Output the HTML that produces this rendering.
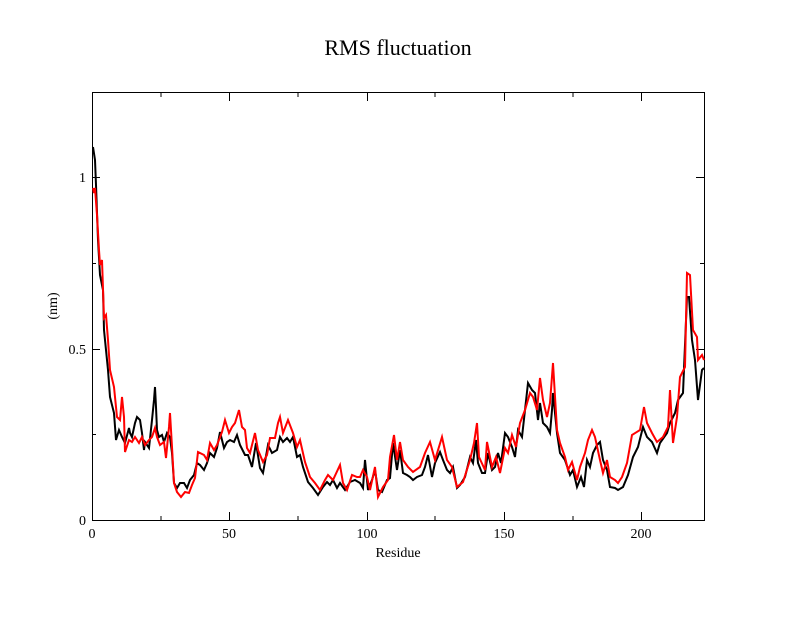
<!DOCTYPE html>
<html><head><meta charset="utf-8"><style>body{margin:0;background:#fff}</style></head>
<body>
<svg width="792" height="612" xmlns="http://www.w3.org/2000/svg" font-family="Liberation Serif, serif">
<rect width="792" height="612" fill="#fff"/>
<text x="398" y="55" text-anchor="middle" font-size="22">RMS fluctuation</text>
<g stroke="#000" stroke-width="1" fill="none">
<rect x="92.5" y="92.5" width="612" height="428"/>
<path d="M92.5 520v-8M229.5 520v-8M367.5 520v-8M504.5 520v-8M641.5 520v-8M92.5 93v8M229.5 93v8M367.5 93v8M504.5 93v8M641.5 93v8
M161 520v-4M298 520v-4M435 520v-4M573 520v-4M161 93v4M298 93v4M435 93v4M573 93v4
M92 520.5h8M92 349.5h8M92 177.5h8M704 520.5h-8M704 349.5h-8M704 177.5h-8
M92 434.5h4M92 263.5h4M704 434.5h-4M704 263.5h-4"/>
</g>
<g font-size="14" text-anchor="middle">
<text x="92" y="538">0</text><text x="229" y="538">50</text><text x="367" y="538">100</text><text x="504" y="538">150</text><text x="641" y="538">200</text>
</g>
<g font-size="14" text-anchor="end">
<text x="86" y="525">0</text><text x="86" y="354">0.5</text><text x="86" y="182">1</text>
</g>
<text x="398" y="557" text-anchor="middle" font-size="14">Residue</text>
<text transform="translate(57,306) rotate(-90)" text-anchor="middle" font-size="14">(nm)</text>
<polyline fill="none" stroke="#000" stroke-width="2" points="93,147 95,160 96,185 98,240 100,275 103,290 104,330 106,350 108,370 110,397 114,413 116,440 119,430 122,437 125,443 129,428 130,433 132,437 135,423 137,417 140,420 142,433 144,450 145,442 149,448 152,420 154,400 155,387 156,407 157,430 159,437 162,435 164,442 167,433 170,437 172,453 174,483 177,488 180,483 184,483 187,488 190,480 194,475 197,463 200,465 204,470 207,463 210,453 214,457 217,448 220,432 224,448 227,442 230,440 234,442 237,435 240,445 245,455 248,455 252,467 256,443 260,468 263,473 268,445 272,453 277,450 280,437 283,442 287,438 290,442 293,437 297,457 300,455 303,467 308,482 313,488 318,495 323,487 327,482 330,485 333,480 337,488 340,483 345,490 350,482 355,480 360,483 363,488 365,460 368,490 372,480 375,470 378,490 382,492 387,480 390,478 393,443 397,470 400,450 403,473 407,475 410,477 413,480 417,477 422,475 425,467 428,455 432,477 435,463 440,452 443,460 447,470 450,473 453,467 457,488 460,485 465,477 470,457 473,463 476,440 478,463 482,473 485,473 488,453 492,470 495,467 498,453 501,463 505,433 508,437 512,447 515,457 518,430 522,437 525,410 528,383 532,390 535,393 538,420 540,403 543,423 547,427 550,433 552,410 553,393 557,433 560,453 565,460 570,475 573,470 577,487 581,477 584,487 587,460 590,467 593,453 597,445 600,442 603,460 607,470 610,487 615,488 618,490 623,487 628,475 633,457 638,447 643,427 647,437 652,442 657,453 660,443 667,433 670,423 675,413 678,400 683,393 687,297 689,297 692,340 695,360 698,400 702,370 704,368"/>
<polyline fill="none" stroke="#f00" stroke-width="2" points="93,188 94,193 95,188 97,215 99,250 100,265 102,260 104,318 106,315 108,340 110,370 114,387 117,417 120,420 122,397 124,417 125,452 129,440 132,442 135,437 139,443 142,437 145,445 149,440 152,437 155,428 157,437 160,445 164,442 166,458 169,427 170,413 172,447 174,483 177,492 181,497 185,492 189,493 192,485 195,478 198,452 204,455 207,460 210,443 214,450 217,445 222,432 225,420 229,433 232,427 235,423 239,410 242,427 245,430 247,448 250,453 255,433 258,450 263,462 267,455 270,438 275,438 278,423 280,417 283,433 288,420 293,433 297,447 300,440 305,462 310,477 315,483 320,490 325,480 328,475 333,480 340,465 343,483 347,490 352,475 357,477 360,477 363,470 367,477 370,490 375,467 378,497 383,487 388,480 390,457 394,435 397,460 400,442 403,460 408,467 413,472 420,467 425,453 430,442 435,460 442,437 447,460 452,467 457,487 463,482 470,460 474,443 477,423 479,457 485,470 487,442 492,467 496,457 500,473 505,448 508,453 512,435 516,447 520,423 525,410 530,393 533,397 537,410 540,378 543,400 547,417 550,403 553,363 557,430 560,443 565,457 568,470 572,462 577,480 580,467 585,453 588,440 592,430 595,437 600,460 603,473 607,460 610,477 615,480 618,483 622,477 627,463 632,435 640,430 644,407 647,423 652,433 657,442 663,437 668,427 670,390 673,443 677,417 680,377 685,367 687,273 690,275 693,330 697,337 698,360 702,355 704,360"/>
</svg>
</body></html>
